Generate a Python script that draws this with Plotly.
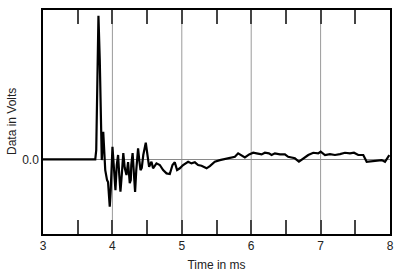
import plotly.graph_objects as go

time_ms = [3.000, 3.753, 3.767, 3.799, 3.818, 3.839, 3.847, 3.868, 3.897, 3.923, 3.937, 3.962, 3.976,
           4.001, 4.020, 4.044, 4.063, 4.082, 4.099, 4.116, 4.135, 4.157, 4.178, 4.203, 4.226, 4.250,
           4.265, 4.272, 4.291, 4.327, 4.344, 4.370, 4.387, 4.405, 4.423, 4.445, 4.481, 4.503, 4.529,
           4.563, 4.586, 4.635, 4.683, 4.731, 4.780, 4.827, 4.866, 4.899, 4.932, 4.971, 5.019, 5.091,
           5.140, 5.188, 5.235, 5.284, 5.357, 5.404, 5.476, 5.548, 5.620, 5.693, 5.765, 5.812, 5.861,
           5.909, 5.971, 6.029, 6.078, 6.150, 6.197, 6.255, 6.294, 6.341, 6.414, 6.486, 6.533, 6.582,
           6.630, 6.688, 6.750, 6.822, 6.894, 6.966, 7.001, 7.063, 7.135, 7.207, 7.279, 7.351, 7.423,
           7.481, 7.543, 7.615, 7.664, 7.736, 7.808, 7.880, 7.928, 7.961, 7.990]
volts = [0.000, 0.000, 0.062, 0.962, 0.665, 0.062, -0.005, 0.185, -0.072, -0.139, -0.152, -0.317, -0.206,
         0.084, -0.072, -0.206, -0.038, 0.029, -0.105, -0.217, -0.105, 0.042, -0.058, -0.105, -0.018, -0.159,
         -0.139, -0.038, 0.042, -0.219, -0.072, 0.074, -0.005, -0.072, -0.058, 0.029, 0.111, 0.029, -0.050,
         -0.016, -0.060, -0.027, -0.038, -0.072, -0.094, -0.098, -0.038, -0.020, -0.072, -0.060, -0.038, -0.016,
         -0.027, -0.020, -0.038, -0.043, -0.060, -0.045, -0.016, -0.005, 0.002, 0.007, 0.017, 0.040, 0.029,
         0.013, 0.033, 0.044, 0.040, 0.033, 0.044, 0.040, 0.029, 0.040, 0.033, 0.033, 0.017, 0.013,
         0.007, -0.016, 0.007, 0.029, 0.044, 0.040, 0.051, 0.029, 0.035, 0.029, 0.035, 0.044, 0.040,
         0.044, 0.029, 0.029, -0.016, -0.011, -0.009, -0.005, -0.016, 0.013, 0.029]

x_tick_vals = [3, 3.5, 4, 4.5, 5, 5.5, 6, 6.5, 7, 7.5, 8]
x_tick_text = ["3", "", "4", "", "5", "", "6", "", "7", "", "8"]
y_tick_vals = [0]
y_tick_text = ["0.0"]

fig = go.Figure()
fig.add_trace(go.Scatter(x=time_ms, y=volts, mode="lines",
                         line=dict(color="black", width=2.2), showlegend=False))

# vertical gridlines at integers
for gx in [4, 5, 6, 7]:
    fig.add_shape(type="line", xref="x", yref="paper", x0=gx, x1=gx, y0=0, y1=1,
                  line=dict(color="#9a9a9a", width=1), layer="below")

# y-axis title as annotation for precise placement
fig.add_annotation(text="Data in Volts", xref="paper", yref="paper",
                   x=(12 - 43) / 347, y=0.5, xanchor="center", yanchor="middle",
                   textangle=-90, showarrow=False, font=dict(size=12, color="#222"))

fig.update_layout(
    width=400, height=279,
    margin=dict(l=43, r=10, t=10, b=45),
    paper_bgcolor="white", plot_bgcolor="white",
    font=dict(family="Liberation Sans, Arial, sans-serif", size=12, color="#222"),
    xaxis=dict(range=[3, 8], tickvals=x_tick_vals, ticktext=x_tick_text,
               ticks="inside", ticklen=14, tickcolor="#444", tickwidth=1.5,
               showgrid=False, zeroline=False, showline=True, linecolor="black",
               linewidth=1.5, mirror="ticks", automargin=False,
               title=dict(text="Time in ms", standoff=8, font=dict(size=12))),
    yaxis=dict(range=[-0.5, 1.0], tickvals=y_tick_vals, ticktext=y_tick_text,
               ticks="", showgrid=False, zeroline=True, zerolinecolor="#8a8a8a",
               zerolinewidth=1, showline=True, linecolor="black", linewidth=1.5,
               mirror=True, automargin=False),
)

fig.write_html("out.html")
